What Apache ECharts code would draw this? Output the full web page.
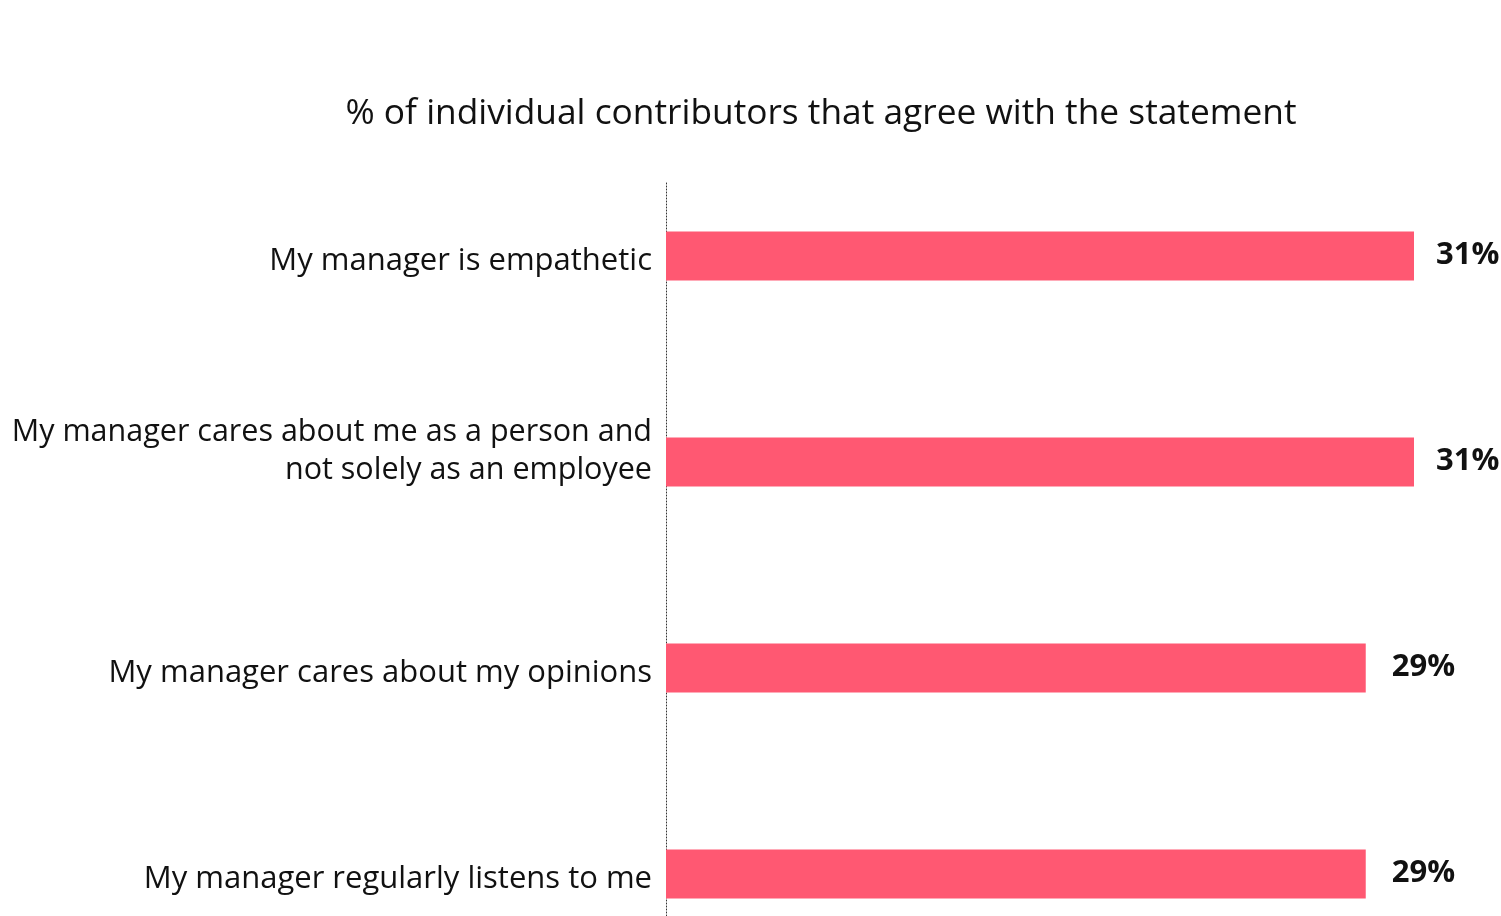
<!DOCTYPE html>
<html><head><meta charset="utf-8">
<script src="https://cdn.jsdelivr.net/npm/echarts@6/dist/echarts.min.js"></script>
<style>html,body{margin:0;padding:0;background:#fff}#c{width:1501px;height:916px}</style>
</head><body><div id="c"></div>
<script>
const titleText = '% of individual contributors that agree with the statement';
const categories = [
  'My manager is empathetic',
  'My manager cares about me as a person and\nnot solely as an employee',
  'My manager cares about my opinions',
  'My manager regularly listens to me'
];
const values = [31, 31, 29, 29];

const FONT = '"Open Sans", "Noto Sans", sans-serif';
const chart = echarts.init(document.getElementById('c'), null, {renderer: 'canvas'});
chart.setOption({
  animation: false,
  title: {
    text: titleText, left: 816, top: 91, textAlign: 'center',
    textStyle: {fontFamily: FONT, fontSize: 35.3, fontWeight: 'normal', color: '#111'}
  },
  grid: [
    {left: 666, top: 153, width: 748, height: 824, outerBoundsMode: 'none', containLabel: false},
    {left: 666, top: 183, width: 748, bottom: 0, outerBoundsMode: 'none'}
  ],
  xAxis: [
    {type: 'value', gridIndex: 0, min: 0, max: 31, show: false},
    {type: 'value', gridIndex: 1, min: 0, max: 31, show: false}
  ],
  yAxis: [
    {type: 'category', gridIndex: 0, data: categories, inverse: true,
     axisLine: {show: false}, axisTick: {show: false}, splitLine: {show: false},
     axisLabel: {
       margin: 14, align: 'right',
       formatter: function (v) {
         const lines = v.split('\n');
         if (lines.length === 1) return '{s|' + v + '}';
         return lines.map(l => '{m|' + l + '}').join('\n') + '\n{e| }';
       },
       rich: {
         s: {fontFamily: FONT, fontSize: 31, color: '#111', padding: [11, 0, 0, 0]},
         m: {fontFamily: FONT, fontSize: 30.5, color: '#111', lineHeight: 38},
         e: {fontSize: 1, lineHeight: 22, height: 22}
       }
     }},
    {type: 'value', gridIndex: 1, min: 0, max: 1,
     axisLine: {show: true, lineStyle: {color: '#333', type: [1, 2], width: 1}},
     axisTick: {show: false}, axisLabel: {show: false}, splitLine: {show: false}}
  ],
  series: [{
    type: 'bar', xAxisIndex: 0, yAxisIndex: 0, barWidth: 49,
    data: values.map(v => ({value: v, label: {distance: v >= 30 ? 22 : 26}})),
    itemStyle: {color: '#ff5872'},
    label: {show: true, position: 'right', formatter: '{c}%', offset: [0, -1],
      fontFamily: FONT, fontSize: 31, fontWeight: 'bold', color: '#111'}
  }]
});
</script></body></html>
